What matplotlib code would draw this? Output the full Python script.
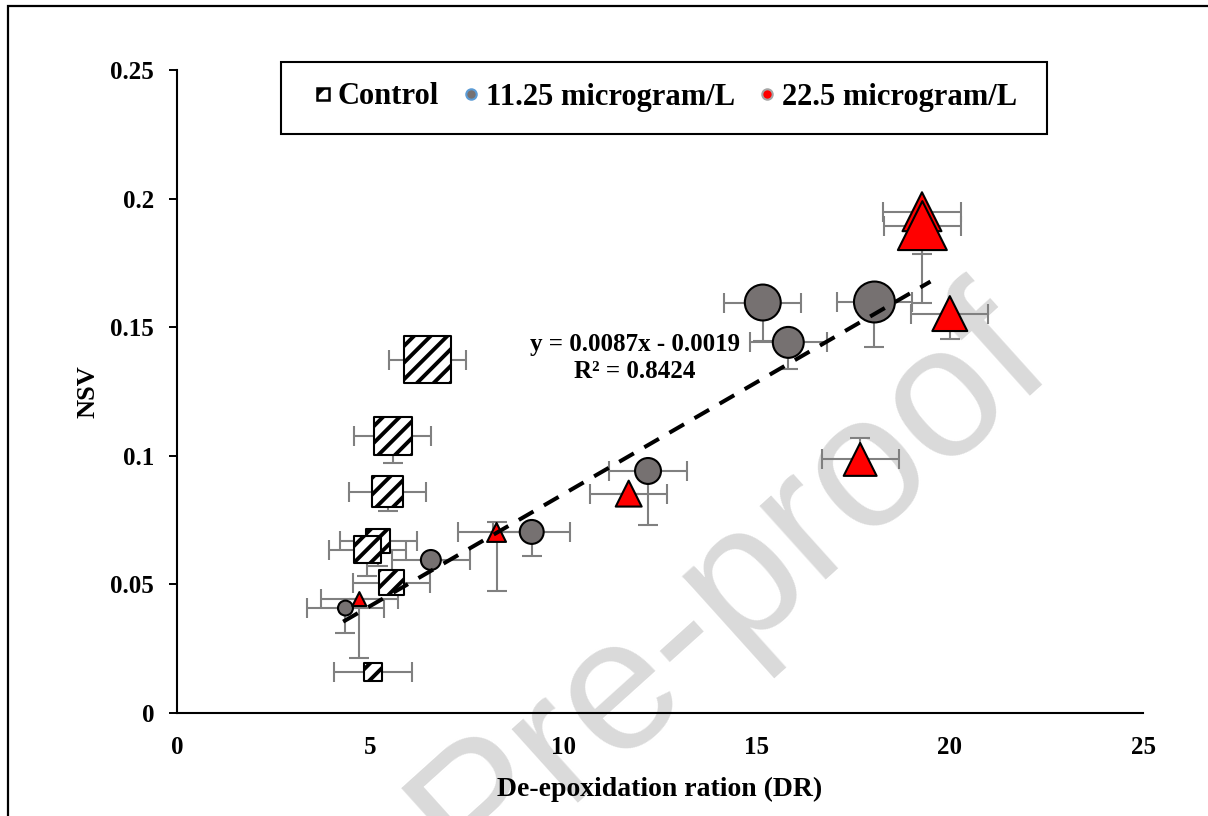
import numpy as np
import matplotlib
matplotlib.use("Agg")
import matplotlib.pyplot as plt
import matplotlib.patches as mpatches
from matplotlib.lines import Line2D

# Control
ctrl_x = [6.49, 5.58, 5.45, 5.21, 4.93, 5.55, 5.07]
ctrl_y = [0.1373, 0.1077, 0.0861, 0.0669, 0.0634, 0.0507, 0.0159]
ctrl_xerr = [1.0, 1.0, 1.0, 1.0, 1.0, 1.0, 1.0]
ctrl_yerr_lo = [0, 0.0105, 0.0076, 0.0097, 0.0100, 0, 0]
ctrl_yerr_hi = [0, 0, 0, 0, 0, 0, 0]
ctrl_bubble = [49, 40, 33, 26, 29, 27, 20]

# 11.25 microgram/L
low_x = [4.36, 6.57, 9.18, 12.19, 15.16, 15.82, 18.05]
low_y = [0.0408, 0.0595, 0.0704, 0.0941, 0.1596, 0.1441, 0.1598]
low_xerr = [1.0, 1.0, 1.0, 1.0, 1.0, 1.0, 0.98]
low_yerr_lo = [0.0097, 0, 0.0093, 0.021, 0.015, 0.0103, 0.0175]
low_yerr_hi = [0, 0, 0, 0, 0, 0, 0]
low_bubble = [17, 22, 26, 28, 38, 33, 43]

# 22.5 microgram/L
high_x = [4.72, 8.27, 11.69, 17.68, 20.0, 19.28, 19.29]
high_y = [0.0443, 0.0702, 0.0853, 0.0986, 0.1553, 0.1949, 0.1895]
high_xerr = [1.0, 1.0, 1.0, 1.0, 1.0, 1.0, 1.0]
high_yerr_lo = [0.023, 0.0228, 0, 0, 0.0099, 0.0165, 0.030]
high_yerr_hi = [0, 0.004, 0, 0.0084, 0, 0, 0]
high_bubble = [16, 21, 28, 35, 37, 41, 51]

# trend line
slope = 0.0087
intercept = -0.0019
r2 = 0.8424
fit_x = np.array([4.3, 19.5])

x_ticks = [0, 5, 10, 15, 20, 25]
y_ticks = [0, 0.05, 0.1, 0.15, 0.2, 0.25]
y_ticklabels = ["0", "0.05", "0.1", "0.15", "0.2", "0.25"]

plt.rcParams["font.family"] = ["Liberation Serif", "DejaVu Serif"]
plt.rcParams["font.weight"] = "bold"
plt.rcParams["hatch.linewidth"] = 2.8

W, H = 1208, 816
fig = plt.figure(figsize=(W / 100, H / 100), dpi=100)
fig.patch.set_facecolor("white")
ax = fig.add_axes([177 / W, 1 - 713 / H, (1143 - 177) / W, (713 - 70) / H])
ax.patch.set_alpha(0)

err_kw = dict(fmt="none", ecolor="#808080", elinewidth=1.5, capsize=7, capthick=1.5, zorder=2)


def size(b):
    return (np.array(b) * 0.72 - 1.5) ** 2


ax.errorbar(ctrl_x, ctrl_y, xerr=ctrl_xerr, yerr=[ctrl_yerr_lo, ctrl_yerr_hi], **err_kw)
ax.errorbar(low_x, low_y, xerr=low_xerr, yerr=[low_yerr_lo, low_yerr_hi], **err_kw)
ax.errorbar(high_x, high_y, xerr=high_xerr, yerr=[high_yerr_lo, high_yerr_hi], **err_kw)

ax.scatter(ctrl_x, ctrl_y, s=size(ctrl_bubble), marker="s", facecolor="white",
           edgecolor="black", hatch="//", linewidths=1.5, zorder=3)
ax.scatter(low_x, low_y, s=size(low_bubble), marker="o", facecolor="#767171",
           edgecolor="black", linewidths=1.5, zorder=3)
ax.scatter(high_x, high_y, s=size(high_bubble), marker="^", facecolor="#ff0000",
           edgecolor="black", linewidths=1.5, zorder=3)

ax.plot(fit_x, slope * fit_x + intercept, color="black", lw=2.9,
        dashes=(4.2, 3.0), zorder=4)

ax.text(11.85, 0.1432, f"y = {slope}x - {abs(intercept)}", ha="center", va="center",
        fontsize=18, fontweight="bold")
ax.text(11.85, 0.1327, f"R² = {r2}", ha="center", va="center",
        fontsize=18, fontweight="bold")

ax.set_xlim(0, 25)
ax.set_ylim(0, 0.25)
ax.set_xticks(x_ticks)
ax.set_yticks(y_ticks)
ax.set_yticklabels(y_ticklabels)
ax.tick_params(axis="y", length=6, width=1.4, direction="out", pad=10.5, labelsize=18)
ax.tick_params(axis="x", length=0, pad=16.5, labelsize=18)
for s in ["top", "right"]:
    ax.spines[s].set_visible(False)
for s in ["left", "bottom"]:
    ax.spines[s].set_linewidth(1.5)

ax.set_xlabel("De-epoxidation ration (DR)", fontsize=20, fontweight="bold", labelpad=13)
ax.set_ylabel("NSV", fontsize=19, fontweight="bold", labelpad=8)

# legend (Excel style small icons)
h_box = Line2D([], [], ls="none", marker="s", markersize=8, markerfacecolor="white",
               markeredgecolor="black", markeredgewidth=1.8)
h_corner = Line2D([], [], ls="none", marker=[(-1, 1), (0.2, 1), (-1, -0.2)], markersize=8,
                  markerfacecolor="black", markeredgecolor="black", markeredgewidth=0.5)
h_low = Line2D([], [], ls="none", marker="o", markersize=7.5, markerfacecolor="#767171",
               markeredgecolor="#5b9bd5", markeredgewidth=1.5)
h_high = Line2D([], [], ls="none", marker="o", markersize=7.5, markerfacecolor="#ff0000",
                markeredgecolor="#a5a5a5", markeredgewidth=1.5)
leg = ax.legend([(h_box, h_corner), h_low, h_high],
                ["Control", "11.25 microgram/L", "22.5 microgram/L"],
                loc="center left", bbox_to_anchor=((313.8 - 177) / 966, (713 - 97) / 643),
                ncol=3, frameon=False, borderpad=0, borderaxespad=0,
                handlelength=0.6, handletextpad=0.19, columnspacing=0.75,
                prop={"size": 22, "weight": "bold"})
ax.add_patch(mpatches.Rectangle(((281 - 177) / 966, (713 - 134) / 643),
                                (1047 - 281) / 966, (134 - 62) / 643,
                                transform=ax.transAxes, fill=False, edgecolor="black",
                                lw=1.5, clip_on=False, zorder=5))

# outer frame
fig.add_artist(mpatches.Rectangle((8 / W, -0.1), 1.2, 1.1 - 6 / H, transform=fig.transFigure,
                                  fill=False, edgecolor="black", lw=1.6))

# watermark
fig.text(1054 / W, 1 - 361 / H, "Pre-proof", family=["Liberation Sans", "DejaVu Sans"],
         fontweight="normal", fontsize=135, color="#dadada", rotation=42,
         rotation_mode="anchor", ha="right", va="baseline", zorder=-1)

fig.savefig("out.png", dpi=100, facecolor="white")
